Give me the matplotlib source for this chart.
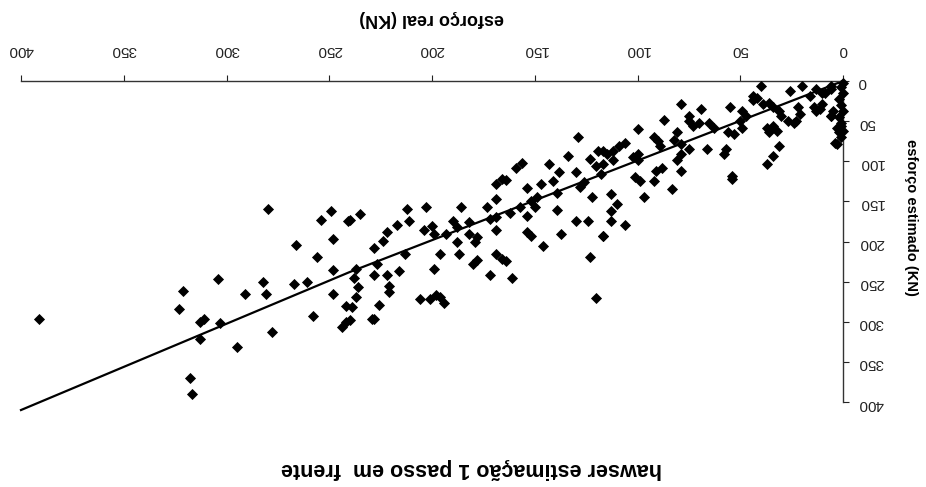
import matplotlib
matplotlib.use("Agg")
import matplotlib.pyplot as plt

# esforço real (KN)
real = [391, 280, 249, 254, 241, 248, 266, 256, 248, 304, 321, 323, 282, 281, 291, 267,
        261, 248, 242, 258, 244, 242, 313, 311, 303, 313, 278, 295, 318, 317,
        129, 119, 115, 123, 120, 118, 134, 143, 138, 130, 156, 159, 169, 164, 166, 154,
        147, 141, 139, 128, 126, 122, 149, 152, 150, 169, 173, 162, 157, 154, 172, 169,
        169, 139, 130, 124, 117, 137, 154, 152, 146, 123, 120, 182, 186, 190, 188, 182,
        179, 178, 188, 193, 196, 187, 169, 166, 164, 180, 178, 172, 161, 199, 203, 212,
        211, 217, 222, 224, 228, 235, 240, 213, 204, 200, 199, 227, 228, 222, 221, 221,
        216, 237, 238, 236, 237, 239, 240, 226, 229, 228, 206, 201, 198, 196, 194,
        40, 26, 20, 44, 44, 42, 55, 49, 47, 39, 36, 34, 31, 30, 27, 22, 21, 23, 24,
        16, 13, 10, 6, 14, 13, 11, 6, 0, 1, 3, 37, 36, 34, 32, 31, 34, 37, 54, 54,
        57, 58, 53, 50, 49, 56, 65, 63, 69, 70, 66, 75, 79, 75, 75, 73, 87, 100, 81,
        82, 79, 79, 81, 79, 92, 90, 89, 88, 91, 83, 92, 101, 99, 97, 100, 100, 102,
        109, 106, 112, 117, 112, 117, 113, 110, 113, 113, 106, 117,
        0, 1, 0, 2, 1, 0, 2, 1, 3, 9, 5, 6, 10, 4, 2, 1, 6]
# esforço estimado (KN)
estim = [297, 159, 162, 173, 174, 197, 204, 219, 235, 247, 262, 284, 250, 265, 265, 253,
         251, 266, 280, 293, 306, 300, 300, 296, 301, 322, 313, 331, 370, 390,
         70, 87, 91, 97, 106, 116, 94, 103, 113, 114, 102, 108, 128, 123, 122, 133,
         128, 125, 139, 132, 126, 145, 145, 149, 157, 147, 157, 164, 157, 168, 172, 170,
         186, 161, 175, 175, 193, 191, 188, 193, 206, 219, 270, 176, 157, 174, 182,
         191, 201, 195, 201, 191, 215, 215, 215, 222, 224, 228, 223, 242, 246, 234, 157, 159,
         175, 180, 188, 199, 208, 166, 173, 216, 186, 181, 191, 228, 242, 242, 256, 263,
         237, 234, 246, 257, 269, 282, 298, 279, 296, 297, 272, 272, 267, 269, 277,
         6, 12, 6, 19, 24, 21, 33, 37, 44, 29, 27, 33, 37, 44, 50, 33, 41, 50, 52,
         19, 10, 15, 10, 33, 37, 35, 44, 62, 70, 79, 58, 64, 56, 62, 81, 93, 104, 118, 122,
         85, 91, 66, 50, 58, 64, 52, 58, 35, 52, 85, 85, 29, 50, 44, 56, 48, 60, 64,
         73, 79, 91, 99, 112, 70, 75, 81, 108, 112, 135, 124, 120, 124, 145, 99, 91, 95,
         81, 77, 87, 87, 99, 104, 141, 153, 162, 174, 180, 193,
         2, 8, 15, 22, 30, 38, 45, 52, 58, 15, 37, 44, 29, 77, 64, 56, 6]

trend_x = [0, 240, 400]
trend_y = [0, 238, 410]

x_ticks = [0, 50, 100, 150, 200, 250, 300, 350, 400]
y_ticks = [0, 50, 100, 150, 200, 250, 300, 350, 400]

title = "hawser estimação 1 passo em  frente"
xlabel = "esforço real (KN)"
ylabel = "esforço estimado (KN)"

plt.rcParams['font.family'] = ['Liberation Sans', 'DejaVu Sans']

fig = plt.figure(figsize=(9.26, 4.87), dpi=100)
ax = fig.add_axes([21/926, 1-402/487, (843-21)/926, (402-81)/487])

ax.scatter(real, estim, marker='D', s=32, color='black', linewidths=0, zorder=3,
           clip_on=False)
ax.plot(trend_x, trend_y, color='black', lw=1.6, zorder=2, clip_on=False)

ax.set_xlim(400, 0)
ax.set_ylim(400, 0)
ax.xaxis.tick_top()
ax.yaxis.tick_right()
ax.set_xticks(x_ticks)
ax.set_yticks(y_ticks)
ax.set_xticklabels([str(v) for v in x_ticks], rotation=180, fontsize=11)
ax.set_yticklabels([str(v) for v in y_ticks], rotation=180, fontsize=11)
ax.tick_params(axis='x', direction='out', length=4, width=0.8, pad=13, colors='#222222')
ax.tick_params(axis='y', direction='out', length=4, width=0.8, pad=7, colors='#222222')
for s in ['left', 'bottom']:
    ax.spines[s].set_visible(False)
for s in ['top', 'right']:
    ax.spines[s].set_color('#333333')
    ax.spines[s].set_linewidth(1.0)
ax.set_facecolor('white')

fig.text(432/926, 1-19/487, xlabel, rotation=180, ha='center', va='center',
         fontsize=13, fontweight='bold')
fig.text(911/926, 1-217/487, ylabel, rotation=270, ha='center', va='center',
         fontsize=10.5, fontweight='bold')
fig.text(472/926, 1-468/487, title, rotation=180, ha='center', va='center',
         fontsize=15.5, fontweight='bold')

fig.savefig('out.png', dpi=100, facecolor='white')
